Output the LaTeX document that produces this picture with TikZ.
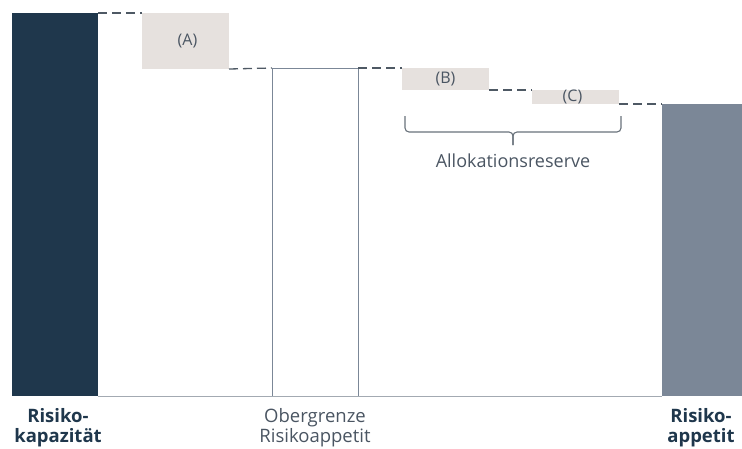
\documentclass[tikz,border=0pt]{standalone}
\usepackage{fontspec}
\setmainfont{Open Sans}
\usetikzlibrary{calc}
\definecolor{kapblau}{HTML}{1F374C}
\definecolor{appgrau}{HTML}{7B8797}
\definecolor{boxgrau}{HTML}{E6E1DE}
\definecolor{linie}{HTML}{4E5964}
\definecolor{textgrau}{HTML}{4A5562}
\definecolor{bodengrau}{HTML}{A3AAB2}
\tikzset{
  bar/.style={inner sep=0pt,outer sep=0pt,anchor=south west},
  kapbar/.style={bar,fill=kapblau},
  appbar/.style={bar,fill=appgrau},
  ogbar/.style={bar,draw=appgrau,line width=1pt,fill=white},
  stufe/.style={inner sep=0pt,outer sep=0pt,anchor=north west,fill=boxgrau},
  stufetext/.style={text=textgrau,inner sep=0pt,font=\fontsize{16}{18}\selectfont},
  verbind/.style={draw=linie,line width=1.3pt,dash pattern=on 9pt off 5pt},
  klammer/.style={draw=linie!85,line width=1.1pt,rounded corners=4pt},
  fuss/.style={align=center,inner sep=0pt,font=\fontsize{18.5}{20}\selectfont},
}
\begin{document}
\begin{tikzpicture}[line cap=butt,line join=miter,x=1pt,y=-1pt]
                \useasboundingbox (0,0) rectangle (742,448);
                % Balken
                \node[kapbar,minimum width=86pt,minimum height=383pt] (kap) at (12,396) {};
                \node[ogbar,minimum width=86pt,minimum height=328pt] (og) at (272,396) {};
                \node[appbar,minimum width=80pt,minimum height=292pt] (app) at (662,396) {};
                % Abzuege
                \node[stufe,minimum width=87pt,minimum height=56pt,label={[stufetext,xshift=2pt]center:(A)}] (A) at (142,13) {};
                \node[stufe,minimum width=87pt,minimum height=22pt,label={[stufetext]center:(B)}] (B) at (402,68) {};
                \node[stufe,minimum width=87pt,minimum height=14pt,label={[stufetext,xshift=-3pt]center:(C)}] (C) at (532,90) {};
                % Verbindungen
                \draw[verbind] (kap.north east) -- (A.north west);
                \draw[verbind] (A.south east) -- (og.north west);
                \draw[verbind] (og.north east) -- (B.north west);
                \draw[verbind] (B.south east) -- (C.north west);
                \draw[verbind] (C.south east) -- (app.north west);
                \draw[bodengrau,line width=0.8pt] (kap.south east) -- (app.south west);
                % Klammer
                \coordinate (kl1) at (405,116);
                \coordinate (kl2) at (621,116);
                \coordinate (klm) at (513,145);
                \draw[klammer] (kl1) -- (kl1 |- 0,132) -- (klm |- 0,132) -- (klm);
                \draw[klammer] (kl2) -- (kl2 |- 0,132) -- (klm |- 0,132) -- (klm);
                \node[stufetext,font=\fontsize{18}{20}\selectfont,anchor=base] (allo) at (513,167) {Allokationsreserve};
                % Beschriftung
                \node[fuss,font=\fontsize{18.5}{20}\selectfont\bfseries,text=kapblau] (kaptext) at (58,428) {Risiko-\\kapazität};
                \node[fuss,text=textgrau] (ogtext) at (315,428) {Obergrenze\\Risikoappetit};
                \node[fuss,font=\fontsize{18.5}{20}\selectfont\bfseries,text=kapblau] (apptext) at (701,428) {Risiko-\\appetit};
\end{tikzpicture}
\end{document}
